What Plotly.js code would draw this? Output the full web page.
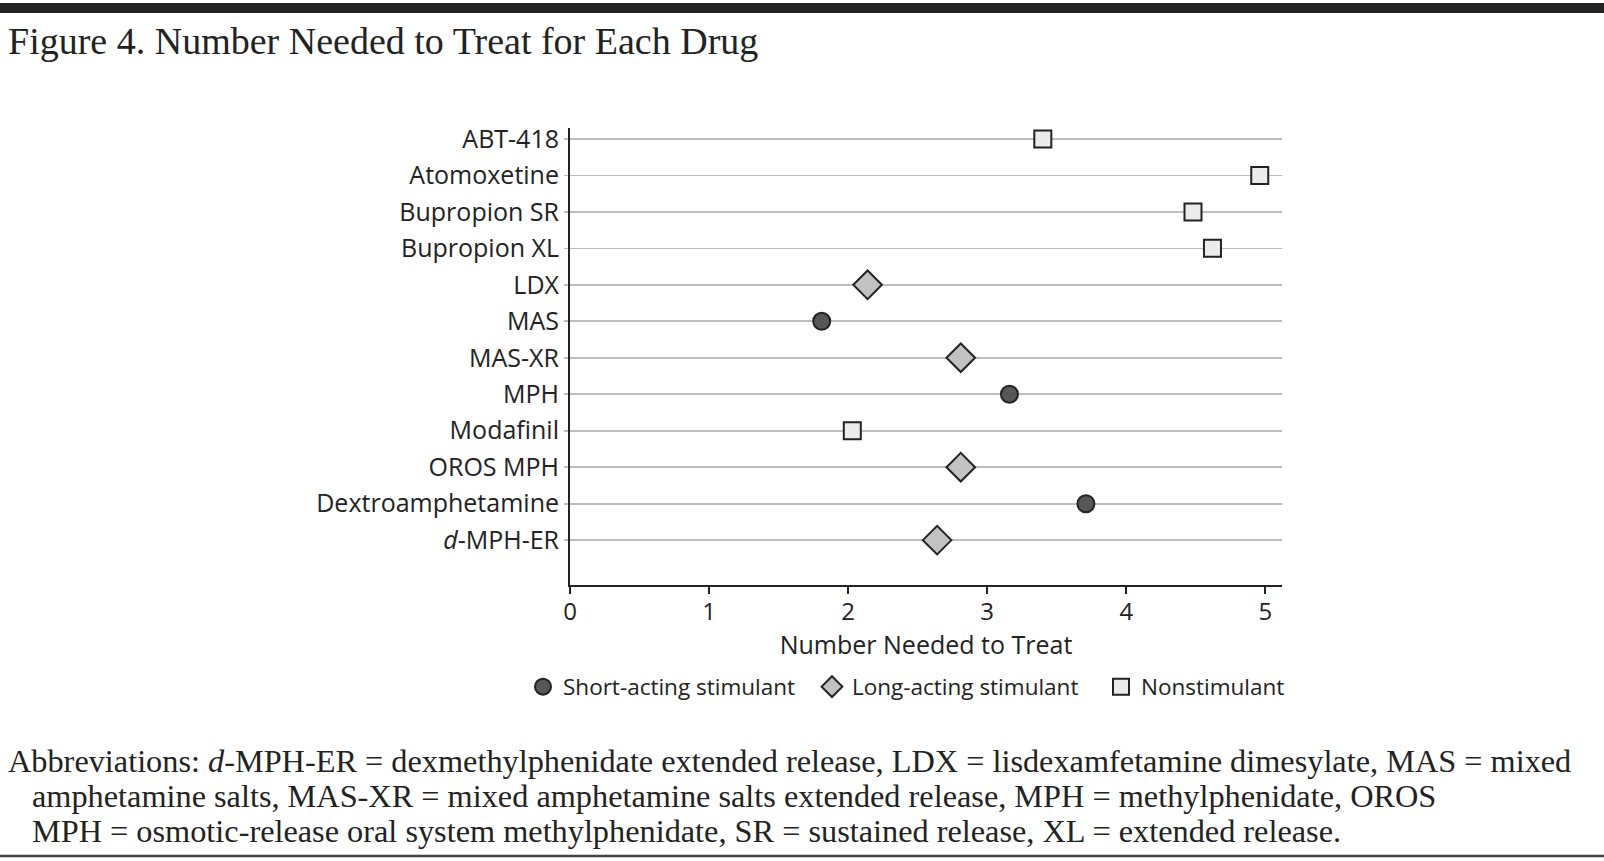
<!DOCTYPE html>
<html><head><meta charset="utf-8">
<script src="https://cdn.plot.ly/plotly-3.0.1.min.js"></script>
<style>html,body{margin:0;padding:0;background:#fff;}#chart{width:1604px;height:861px;}</style>
</head><body><div id="chart"></div>
<script>
const drugs = ["ABT-418","Atomoxetine","Bupropion SR","Bupropion XL","LDX","MAS","MAS-XR","MPH","Modafinil","OROS MPH","Dextroamphetamine","<i>d</i>-MPH-ER"];
const nnt =   [3.4, 4.96, 4.48, 4.62, 2.14, 1.81, 2.81, 3.16, 2.03, 2.81, 3.71, 2.64];
const drugType = ["non","non","non","non","long","short","long","short","non","long","short","long"];
const groups = [
  {key:"short", name:"Short-acting stimulant", symbol:"circle", size:17, fill:"#575757"},
  {key:"long", name:"Long-acting stimulant", symbol:"diamond", size:22, fill:"#c2c2c2"},
  {key:"non", name:"Nonstimulant", symbol:"square", size:17, fill:"#ebebeb"}
];
const xTicks = [0,1,2,3,4,5];

const traces = groups.map(g => {
  const xs = [], ys = [];
  drugs.forEach((d,i) => { if (drugType[i] === g.key) { xs.push(nnt[i]); ys.push(d); } });
  return {type:"scatter", mode:"markers", name:g.name, x:xs, y:ys,
    marker:{symbol:g.symbol, size:g.size, color:g.fill, line:{color:"#222", width:2}}};
});

// plot area in pixels
const L=570, R=1282, T=128, B=585, W=1604, H=861;
const px = v => (v-L)/(R-L);
const py = v => (B-v)/(B-T);

const serif = "Liberation Serif, serif";
const sans = "Open Sans, sans-serif";

const layout = {
  width:W, height:H,
  margin:{l:L, r:W-R, t:T, b:H-B, pad:0},
  paper_bgcolor:"#fff", plot_bgcolor:"#fff",
  showlegend:true,
  legend:{orientation:"h", x:px(523), xanchor:"left", y:py(687), yanchor:"middle",
    entrywidth:244, entrywidthmode:"pixels",
    font:{family:sans, size:22.5, color:"#222"}, bgcolor:"rgba(0,0,0,0)", traceorder:"normal"},
  xaxis:{range:[0,5.12], tickvals:xTicks, ticktext:xTicks.map(String),
    showgrid:false, zeroline:false, showline:true, linecolor:"#222", linewidth:2,
    ticks:"outside", ticklen:7, tickwidth:2, tickcolor:"#222", ticklabelstandoff:-3,
    tickfont:{family:sans, size:24, color:"#222"},
    title:{text:"Number Needed to Treat", font:{family:sans, size:25, color:"#222"}, standoff:0}},
  yaxis:{type:"category", categoryorder:"array", categoryarray:drugs,
    range:[12.23,-0.30], showgrid:true, gridcolor:"#bdbdbd", gridwidth:1.7,
    zeroline:false, showline:true, linecolor:"#222", linewidth:2,
    ticks:"outside", ticklen:4, tickwidth:1.7, tickcolor:"#bdbdbd",
    ticklabelstandoff:0, tickfont:{family:sans, size:25, color:"#222"}},
  shapes:[
    {type:"rect", xref:"paper", yref:"paper", x0:px(0), x1:px(W), y0:py(13), y1:py(3), fillcolor:"#222", line:{width:0}, layer:"above"},
    {type:"line", xref:"paper", yref:"paper", x0:px(0), x1:px(W), y0:py(856), y1:py(856), line:{color:"#444", width:2.5}}
  ],
  annotations:[
    {xref:"paper", yref:"paper", x:px(6), y:py(41), xanchor:"left", yanchor:"middle", showarrow:false,
     text:"Figure 4. Number Needed to Treat for Each Drug", font:{family:serif, size:38, color:"#222"}},
    {xref:"paper", yref:"paper", x:px(6), y:py(761), xanchor:"left", yanchor:"middle", showarrow:false,
     text:"Abbreviations: <i>d</i>-MPH-ER = dexmethylphenidate extended release, LDX = lisdexamfetamine dimesylate, MAS = mixed", font:{family:serif, size:32.3, color:"#222"}},
    {xref:"paper", yref:"paper", x:px(30), y:py(796), xanchor:"left", yanchor:"middle", showarrow:false,
     text:"amphetamine salts, MAS-XR = mixed amphetamine salts extended release, MPH = methylphenidate, OROS", font:{family:serif, size:32.3, color:"#222"}},
    {xref:"paper", yref:"paper", x:px(30), y:py(831), xanchor:"left", yanchor:"middle", showarrow:false,
     text:"MPH = osmotic-release oral system methylphenidate, SR = sustained release, XL = extended release.", font:{family:serif, size:32.3, color:"#222"}}
  ]
};
Plotly.newPlot("chart", traces, layout, {displayModeBar:false, staticPlot:true});
</script></body></html>
